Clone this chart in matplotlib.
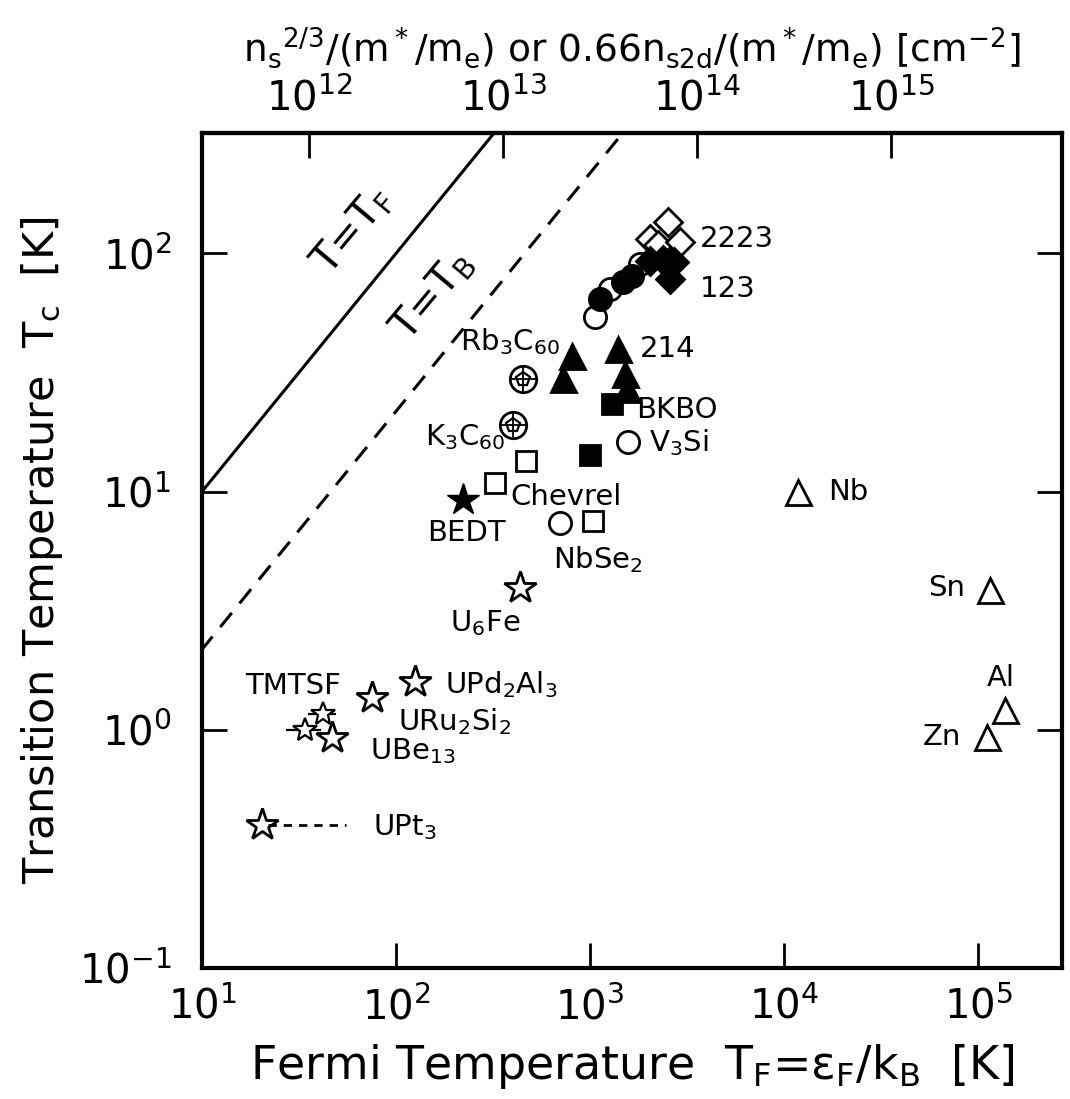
"""Uemura plot: Tc vs Fermi temperature for various superconductors."""
import matplotlib
matplotlib.use("Agg")
import matplotlib.pyplot as plt
import numpy as np

# ------------------------------------------------------------------ #
# data (T_F [K], Tc [K])
# ------------------------------------------------------------------ #
open_circ_tf = [1060, 1260, 1810, 2380]
open_circ_tc = [54, 71, 90, 96]
fill_circ_tf = [1120, 1480, 1650]
fill_circ_tc = [64, 76, 80]
open_diam_tf = [2030, 2250, 2520, 2900]
open_diam_tc = [115, 108, 135, 112]
fill_diam_tf = [2030, 2380, 2690, 2590]
fill_diam_tc = [93, 94, 92, 78]

tri_214_tf = [807, 726, 1394, 1512, 1540]
tri_214_tc = [36.9, 29.6, 39.5, 31, 27]

fill_sq_tf = [1297, 1000]
fill_sq_tc = [23.2, 14.3]

open_sq_tf = [467, 324, 1036]
open_sq_tc = [13.4, 10.9, 7.5]

open_circ2_tf = [1570, 700]          # V3Si, NbSe2
open_circ2_tc = [16.2, 7.35]

c60_tf = [452, 401]                  # Rb3C60, K3C60
c60_tc = [29.6, 19.1]

bedt_tf = [221]
bedt_tc = [9.25]

ustar_tf = [436, 125, 75, 47, 20.4]  # U6Fe, UPd2Al3, URu2Si2, UBe13, UPt3
ustar_tc = [3.95, 1.59, 1.36, 0.92, 0.40]

tmtsf_tf = [34, 42]
tmtsf_tc = [1.0, 1.16]
tmtsf_err = [7, 7]

metal_tf = [11800, 1.15e5, 1.11e5, 1.38e5]   # Nb, Sn, Zn, Al
metal_tc = [10.0, 3.87, 0.93, 1.21]

upt3_dash_tf = [22, 55]
upt3_dash_tc = [0.40, 0.40]

labels = [
    ("2223", 3690, 115), ("123", 3690, 71), ("214", 1810, 39.5),
    ("BKBO", 1726, 22), (r"V$_3$Si", 2000, 16),
    (r"Rb$_3$C$_{60}$", 214, 42.6), (r"K$_3$C$_{60}$", 141, 17),
    ("Chevrel", 387, 9.5), ("BEDT", 145, 6.7), (r"NbSe$_2$", 644, 5.2),
    (r"U$_6$Fe", 190, 2.8), ("TMTSF", 16.7, 1.52),
    (r"UPd$_2$Al$_3$", 179, 1.55), (r"URu$_2$Si$_2$", 102, 1.08),
    (r"UBe$_{13}$", 73, 0.81), (r"UPt$_3$", 76, 0.39),
    ("Nb", 16900, 10), ("Sn", 55000, 3.95), ("Al", 1.11e5, 1.65),
    ("Zn", 52000, 0.93),
]

xlim = (10, 2.7e5)
ylim = (0.1, 320)
tf_to_n = 2.8e10      # n_s^{2/3}/(m*/m_e) per kelvin of T_F
tb_ratio = 4.6        # T_B = T_F / 4.6

plt.rcParams["font.family"] = ["DejaVu Sans"]
plt.rcParams["mathtext.fontset"] = "dejavusans"
plt.rcParams["mathtext.default"] = "regular"

fig = plt.figure(figsize=(10.70, 10.99), dpi=100)
ax = fig.add_axes([0.1888, 0.1192, 0.8037, 0.7598])
ax.set_xscale("log")
ax.set_yscale("log")
ax.set_xlim(*xlim)
ax.set_ylim(*ylim)

k = "black"
lw = 2.0
ms = 16

# reference lines
tline = np.array([1.0, 1e4])
ax.plot(tline, tline, color=k, lw=2.2)
ax.plot(tline, tline / tb_ratio, color=k, lw=2.2, ls=(0, (6, 4)))
ax.text(60, 124, r"T=T$_F$", rotation=50, fontsize=29,
        ha="center", va="center")
ax.text(154, 66, r"T=T$_B$", rotation=50, fontsize=29,
        ha="center", va="center")

# cuprates
ax.plot(open_circ_tf, open_circ_tc, "o", ms=ms, mfc="white", mec=k, mew=lw)
ax.plot(fill_circ_tf, fill_circ_tc, "o", ms=ms, mfc=k, mec=k, mew=lw)
ax.plot(open_diam_tf, open_diam_tc, "D", ms=14, mfc="white", mec=k, mew=lw)
ax.plot(fill_diam_tf, fill_diam_tc, "D", ms=14, mfc=k, mec=k, mew=lw)
ax.plot(tri_214_tf, tri_214_tc, "^", ms=18, mfc=k, mec=k, mew=lw)

# squares, circles
ax.plot(fill_sq_tf, fill_sq_tc, "s", ms=14, mfc=k, mec=k, mew=lw)
ax.plot(open_sq_tf, open_sq_tc, "s", ms=14, mfc="white", mec=k, mew=lw)
ax.plot(open_circ2_tf, open_circ2_tc, "o", ms=ms, mfc="white", mec=k,
        mew=lw)

# fullerenes: circle with a ball pattern inside
ax.plot(c60_tf, c60_tc, "o", ms=19, mfc="white", mec=k, mew=lw)
ax.plot(c60_tf, c60_tc, "p", ms=10, mfc="white", mec=k, mew=1.6)
ax.plot(c60_tf, c60_tc, "+", ms=18, mec=k, mew=1.3)

# organics and heavy fermions
ax.plot(bedt_tf, bedt_tc, "*", ms=24, mfc=k, mec=k, mew=1)
ax.plot(ustar_tf, ustar_tc, "*", ms=24, mfc="white", mec=k, mew=lw)
ax.errorbar(tmtsf_tf, tmtsf_tc, xerr=tmtsf_err, fmt="*", ms=18,
            mfc="white", mec=k, mew=1.6, ecolor=k, elinewidth=1.6,
            capsize=0)
ax.plot(upt3_dash_tf, upt3_dash_tc, color=k, lw=2.0, ls=(0, (3, 2.5)))

# conventional metals
ax.plot(metal_tf, metal_tc, "^", ms=18, mfc="white", mec=k, mew=lw)

for txt, x, y in labels:
    ax.text(x, y, txt, fontsize=21, ha="left", va="center")

# axes styling
for sp in ax.spines.values():
    sp.set_linewidth(3.0)
ax.set_xticks([1e1, 1e2, 1e3, 1e4, 1e5])
ax.set_yticks([1e-1, 1e0, 1e1, 1e2])
ax.minorticks_off()
ax.tick_params(which="major", direction="in", length=18, width=2.0,
               labelsize=29, right=True, top=False, pad=14)
ax.tick_params(axis="y", pad=22)

sec = ax.secondary_xaxis("top", functions=(lambda x: x * tf_to_n,
                                           lambda n: n / tf_to_n))
sec.set_xticks([1e12, 1e13, 1e14, 1e15])
sec.minorticks_off()
sec.tick_params(direction="in", length=18, width=2.0, labelsize=29, pad=10)
sec.spines["top"].set_linewidth(3.0)
sec.set_xlabel(r"n$_s$$^{2/3}$/(m$^*$/m$_e$) or 0.66n$_{s2d}$/(m$^*$/m$_e$)"
               r" [cm$^{-2}$]", fontsize=27, labelpad=12)

ax.set_xlabel(r"Fermi Temperature  T$_F$=$\varepsilon_F$/k$_B$  [K]",
              fontsize=33, labelpad=10)
ax.set_ylabel(r"Transition Temperature  T$_c$  [K]", fontsize=31,
              labelpad=10)

fig.savefig("out.png", dpi=100)
